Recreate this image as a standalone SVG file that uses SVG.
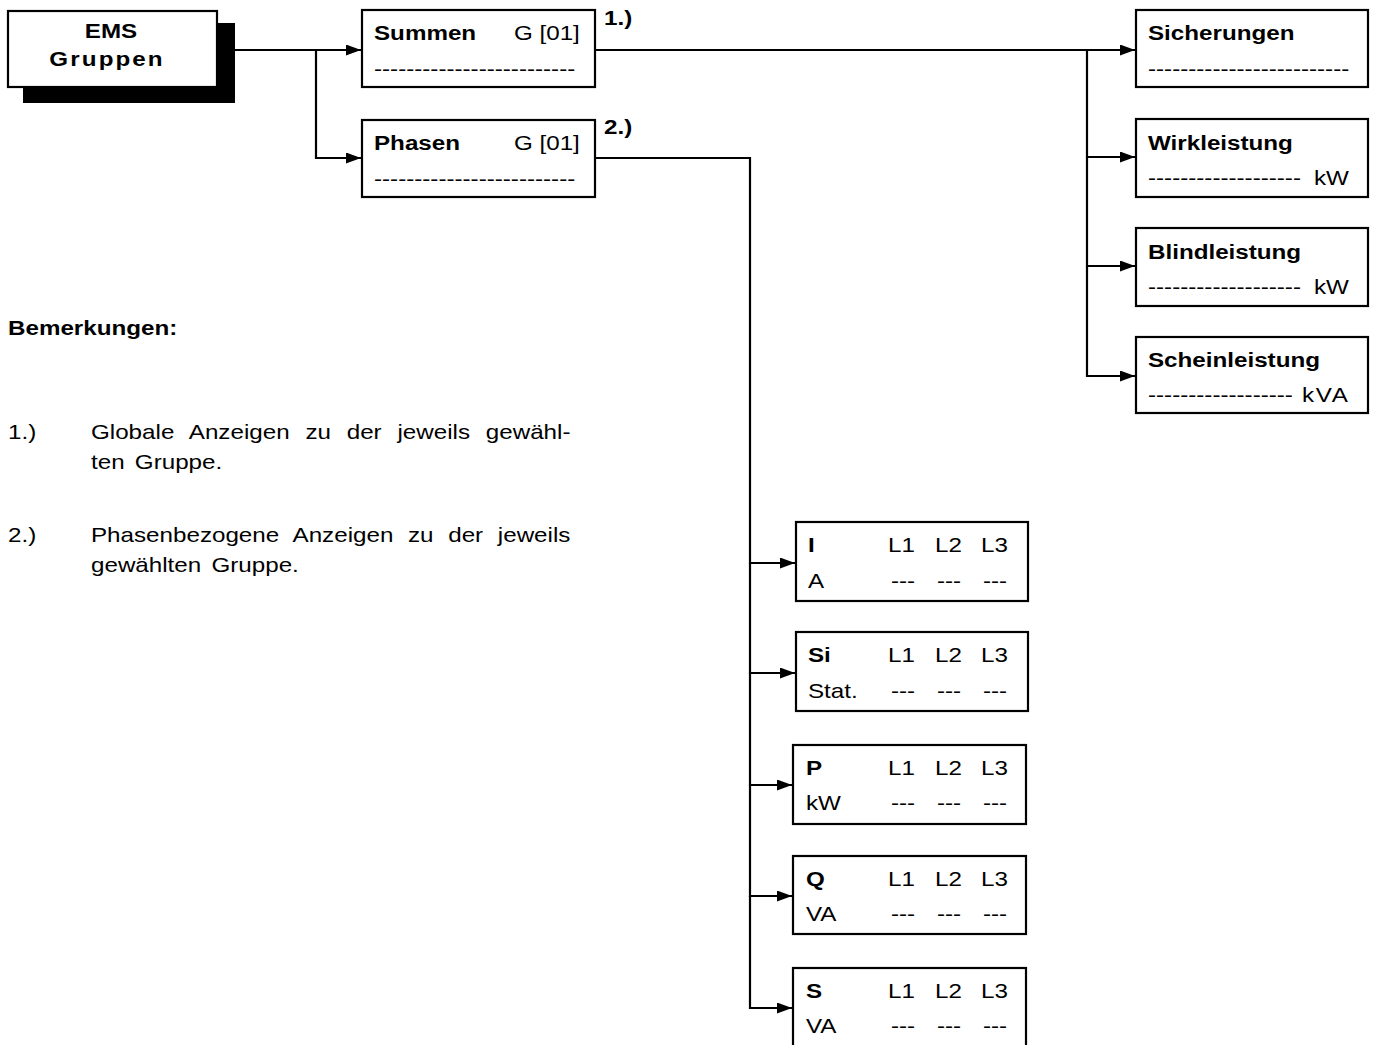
<svg xmlns="http://www.w3.org/2000/svg" width="1374" height="1045" viewBox="0 0 1374 1045">
<defs>
<marker id="arr" markerWidth="15" markerHeight="11" refX="15" refY="5.5" orient="auto" markerUnits="userSpaceOnUse">
<path d="M0,0 L15,5.5 L0,11 Z" fill="#000"/>
</marker>
<style>
.box{fill:#fff;stroke:#000;stroke-width:2.2}
.t{font-family:"Liberation Sans",Arial,sans-serif;font-size:20.5px;fill:#000}
.b{font-weight:bold}
.c{fill:none;stroke:#000;stroke-width:2.2}
</style>
</defs>
<rect width="1374" height="1045" fill="#fff"/>
<g id="connectors">
<path class="c" d="M217,50 H361" marker-end="url(#arr)"/>
<path class="c" d="M316,50 V158 H361" marker-end="url(#arr)"/>
<path class="c" d="M595,50 H1135" marker-end="url(#arr)"/>
<path class="c" d="M1087,50 V157 H1135" marker-end="url(#arr)"/>
<path class="c" d="M1087,157 V266 H1135" marker-end="url(#arr)"/>
<path class="c" d="M1087,266 V376 H1135" marker-end="url(#arr)"/>
<path class="c" d="M595,158 H750 V563 H795" marker-end="url(#arr)"/>
<path class="c" d="M750,563 V673 H795" marker-end="url(#arr)"/>
<path class="c" d="M750,673 V785 H792" marker-end="url(#arr)"/>
<path class="c" d="M750,785 V896 H792" marker-end="url(#arr)"/>
<path class="c" d="M750,896 V1008 H792" marker-end="url(#arr)"/>
</g>
<g id="ems">
<rect x="23" y="23" width="212" height="80" fill="#000"/>
<rect class="box" x="8" y="11" width="209" height="76"/>
<text class="t b" transform="translate(111,38) scale(1.18,1)" text-anchor="middle">EMS</text>
<text class="t b" transform="translate(106,66) scale(1.18,1)" text-anchor="middle" textLength="96" lengthAdjust="spacing">Gruppen</text>
</g>
<g id="summen">
<rect class="box" x="362" y="10" width="233" height="77"/>
<text class="t b" transform="translate(374,40) scale(1.18,1)">Summen</text>
<text class="t" transform="translate(514,40) scale(1.18,1)">G [01]</text>
<text class="t" transform="translate(374,76) scale(1.18,1)">-------------------------</text>
</g>
<g id="phasen">
<rect class="box" x="362" y="120" width="233" height="77"/>
<text class="t b" transform="translate(374,150) scale(1.18,1)">Phasen</text>
<text class="t" transform="translate(514,150) scale(1.18,1)">G [01]</text>
<text class="t" transform="translate(374,186) scale(1.18,1)">-------------------------</text>
</g>
<text class="t b" transform="translate(604,25) scale(1.18,1)">1.)</text>
<text class="t b" transform="translate(604,134) scale(1.18,1)">2.)</text>
<g id="sicherungen">
<rect class="box" x="1136" y="10" width="232" height="77"/>
<text class="t b" transform="translate(1148,40) scale(1.18,1)">Sicherungen</text>
<text class="t" transform="translate(1148,76) scale(1.18,1)">-------------------------</text>
</g>
<g id="wirkleistung">
<rect class="box" x="1136" y="119" width="232" height="78"/>
<text class="t b" transform="translate(1148,150) scale(1.18,1)">Wirkleistung</text>
<text class="t" transform="translate(1148,185) scale(1.18,1)">-------------------</text>
<text class="t" transform="translate(1314,185) scale(1.18,1)">kW</text>
</g>
<g id="blindleistung">
<rect class="box" x="1136" y="228" width="232" height="78"/>
<text class="t b" transform="translate(1148,259) scale(1.18,1)">Blindleistung</text>
<text class="t" transform="translate(1148,294) scale(1.18,1)">-------------------</text>
<text class="t" transform="translate(1314,294) scale(1.18,1)">kW</text>
</g>
<g id="scheinleistung">
<rect class="box" x="1136" y="337" width="232" height="76"/>
<text class="t b" transform="translate(1148,367) scale(1.18,1)">Scheinleistung</text>
<text class="t" transform="translate(1148,402) scale(1.18,1)">------------------</text>
<text class="t" transform="translate(1302,402) scale(1.18,1)" textLength="39" lengthAdjust="spacing">kVA</text>
</g>
<g id="phase-i">
<rect class="box" x="796" y="522" width="232" height="79"/>
<text class="t b" transform="translate(808,552) scale(1.18,1)">I</text>
<text class="t" transform="translate(888,552) scale(1.18,1)">L1</text>
<text class="t" transform="translate(935,552) scale(1.18,1)">L2</text>
<text class="t" transform="translate(981,552) scale(1.18,1)">L3</text>
<text class="t" transform="translate(808,588) scale(1.18,1)">A</text>
<text class="t" transform="translate(891,588) scale(1.18,1)">---</text>
<text class="t" transform="translate(937,588) scale(1.18,1)">---</text>
<text class="t" transform="translate(983,588) scale(1.18,1)">---</text>
</g>
<g id="phase-si">
<rect class="box" x="796" y="632" width="232" height="79"/>
<text class="t b" transform="translate(808,662) scale(1.18,1)">Si</text>
<text class="t" transform="translate(888,662) scale(1.18,1)">L1</text>
<text class="t" transform="translate(935,662) scale(1.18,1)">L2</text>
<text class="t" transform="translate(981,662) scale(1.18,1)">L3</text>
<text class="t" transform="translate(808,698) scale(1.18,1)">Stat.</text>
<text class="t" transform="translate(891,698) scale(1.18,1)">---</text>
<text class="t" transform="translate(937,698) scale(1.18,1)">---</text>
<text class="t" transform="translate(983,698) scale(1.18,1)">---</text>
</g>
<g id="phase-p">
<rect class="box" x="793" y="745" width="233" height="79"/>
<text class="t b" transform="translate(806,775) scale(1.18,1)">P</text>
<text class="t" transform="translate(888,775) scale(1.18,1)">L1</text>
<text class="t" transform="translate(935,775) scale(1.18,1)">L2</text>
<text class="t" transform="translate(981,775) scale(1.18,1)">L3</text>
<text class="t" transform="translate(806,810) scale(1.18,1)">kW</text>
<text class="t" transform="translate(891,810) scale(1.18,1)">---</text>
<text class="t" transform="translate(937,810) scale(1.18,1)">---</text>
<text class="t" transform="translate(983,810) scale(1.18,1)">---</text>
</g>
<g id="phase-q">
<rect class="box" x="793" y="856" width="233" height="78"/>
<text class="t b" transform="translate(806,886) scale(1.18,1)">Q</text>
<text class="t" transform="translate(888,886) scale(1.18,1)">L1</text>
<text class="t" transform="translate(935,886) scale(1.18,1)">L2</text>
<text class="t" transform="translate(981,886) scale(1.18,1)">L3</text>
<text class="t" transform="translate(806,921) scale(1.18,1)">VA</text>
<text class="t" transform="translate(891,921) scale(1.18,1)">---</text>
<text class="t" transform="translate(937,921) scale(1.18,1)">---</text>
<text class="t" transform="translate(983,921) scale(1.18,1)">---</text>
</g>
<g id="phase-s">
<rect class="box" x="793" y="968" width="233" height="82"/>
<text class="t b" transform="translate(806,998) scale(1.18,1)">S</text>
<text class="t" transform="translate(888,998) scale(1.18,1)">L1</text>
<text class="t" transform="translate(935,998) scale(1.18,1)">L2</text>
<text class="t" transform="translate(981,998) scale(1.18,1)">L3</text>
<text class="t" transform="translate(806,1033) scale(1.18,1)">VA</text>
<text class="t" transform="translate(891,1033) scale(1.18,1)">---</text>
<text class="t" transform="translate(937,1033) scale(1.18,1)">---</text>
<text class="t" transform="translate(983,1033) scale(1.18,1)">---</text>
</g>
<g id="notes">
<text class="t b" transform="translate(8,335) scale(1.18,1)">Bemerkungen:</text>
<text class="t" transform="translate(8,439) scale(1.18,1)">1.)</text>
<text class="t" transform="translate(91,439) scale(1.18,1)" word-spacing="7.7">Globale Anzeigen zu der jeweils gewähl-</text>
<text class="t" transform="translate(91,469) scale(1.18,1)" word-spacing="3">ten Gruppe.</text>
<text class="t" transform="translate(8,542) scale(1.18,1)">2.)</text>
<text class="t" transform="translate(91,542) scale(1.18,1)" word-spacing="6.75">Phasenbezogene Anzeigen zu der jeweils</text>
<text class="t" transform="translate(91,572) scale(1.18,1)" word-spacing="3">gewählten Gruppe.</text>
</g>
</svg>
